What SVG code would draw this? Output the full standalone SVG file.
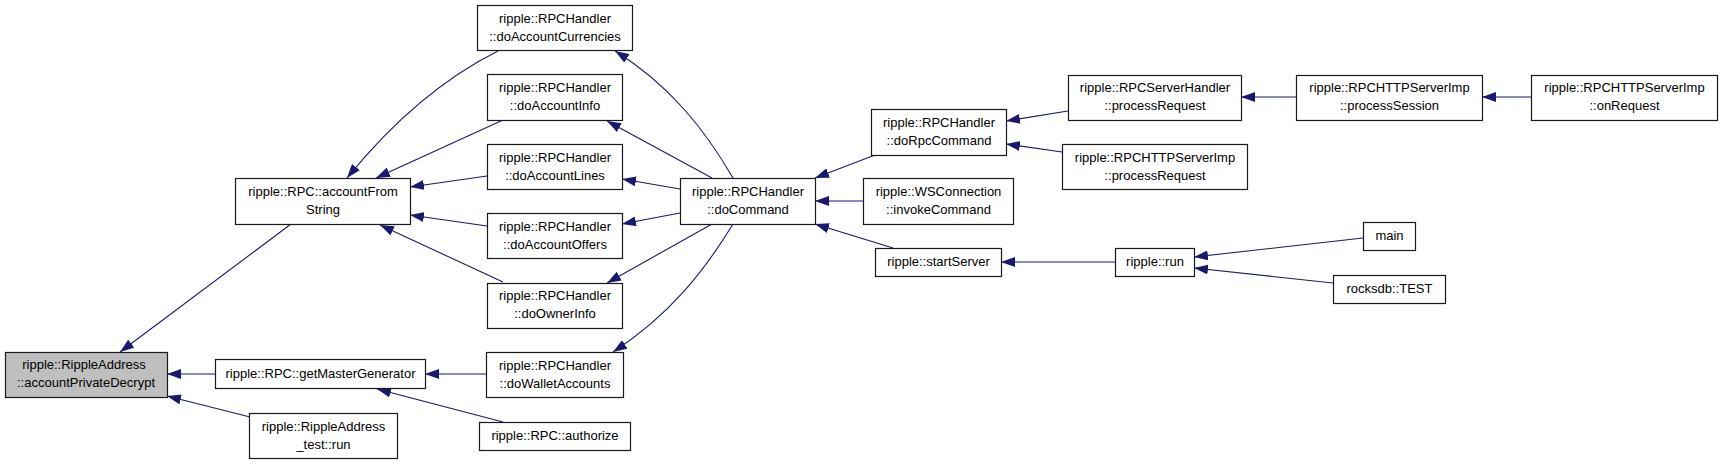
<svg xmlns="http://www.w3.org/2000/svg" width="1723" height="464" viewBox="0 0 1723 464">
<style>
.n rect{fill:#fff;stroke:#1a1a1a;stroke-width:1.2}
.n.g rect{fill:#bfbfbf}
.n text{font-family:"Liberation Sans",Arial,sans-serif;font-size:13px;fill:#000;text-anchor:middle}
.e path{fill:none;stroke:#191970;stroke-width:1.1}
</style>
<defs>
<marker id="a" markerWidth="14" markerHeight="10" refX="14" refY="5" orient="auto" markerUnits="userSpaceOnUse">
<path d="M0,0 L14,5 L0,10 z" fill="#191970" stroke="none"/>
</marker>
</defs>
<rect width="1723" height="464" fill="#fff"/>
<g class="e">
<path d="M291,224 L120,352" marker-end="url(#a)"/>
<path d="M215,374 L167,374" marker-end="url(#a)"/>
<path d="M250,417 L167,396" marker-end="url(#a)"/>
<path d="M498,51 C440,80 390,125 347,178" marker-end="url(#a)"/>
<path d="M503,120 L376,178" marker-end="url(#a)"/>
<path d="M487,176 L410,187" marker-end="url(#a)"/>
<path d="M487,226 L410,215" marker-end="url(#a)"/>
<path d="M503,282 L380,225" marker-end="url(#a)"/>
<path d="M733,178 C705,130 670,85 615,51" marker-end="url(#a)"/>
<path d="M712,178 L607,121" marker-end="url(#a)"/>
<path d="M680,189 L622,179" marker-end="url(#a)"/>
<path d="M680,213 L622,224" marker-end="url(#a)"/>
<path d="M712,224 L607,283" marker-end="url(#a)"/>
<path d="M733,224 C705,270 670,315 613,352" marker-end="url(#a)"/>
<path d="M486,374 L425,374" marker-end="url(#a)"/>
<path d="M503,422 L377,389" marker-end="url(#a)"/>
<path d="M875,155 L815,178" marker-end="url(#a)"/>
<path d="M863,201 L815,201" marker-end="url(#a)"/>
<path d="M893,248 L815,224" marker-end="url(#a)"/>
<path d="M1068,111 L1006,121" marker-end="url(#a)"/>
<path d="M1062,152 L1006,144" marker-end="url(#a)"/>
<path d="M1115,262 L1001,262" marker-end="url(#a)"/>
<path d="M1363,238 L1194,257" marker-end="url(#a)"/>
<path d="M1333,283 L1194,268" marker-end="url(#a)"/>
<path d="M1296,97 L1241,97" marker-end="url(#a)"/>
<path d="M1531,97 L1482,97" marker-end="url(#a)"/>
</g>
<g id="n_accountPrivateDecrypt" class="n g"><rect x="5.5" y="352.5" width="162" height="45"/><text x="84" y="369">ripple::RippleAddress</text><text x="86" y="387">::accountPrivateDecrypt</text></g>
<g id="n_accountFromString" class="n"><rect x="235.5" y="178.5" width="175" height="46"/><text x="323" y="196">ripple::RPC::accountFrom</text><text x="323" y="214">String</text></g>
<g id="n_getMasterGenerator" class="n"><rect x="215.5" y="359.5" width="210" height="29"/><text x="320.5" y="378">ripple::RPC::getMasterGenerator</text></g>
<g id="n_RippleAddress_test_run" class="n"><rect x="249.5" y="413.5" width="148" height="45"/><text x="323.5" y="431">ripple::RippleAddress</text><text x="323.5" y="449">_test::run</text></g>
<g id="n_doAccountCurrencies" class="n"><rect x="477.5" y="5.5" width="155" height="45"/><text x="555" y="23">ripple::RPCHandler</text><text x="555" y="41">::doAccountCurrencies</text></g>
<g id="n_doAccountInfo" class="n"><rect x="487.5" y="74.5" width="135" height="46"/><text x="555" y="92">ripple::RPCHandler</text><text x="555" y="110">::doAccountInfo</text></g>
<g id="n_doAccountLines" class="n"><rect x="487.5" y="144.5" width="135" height="45"/><text x="555" y="162">ripple::RPCHandler</text><text x="555" y="180">::doAccountLines</text></g>
<g id="n_doAccountOffers" class="n"><rect x="487.5" y="213.5" width="135" height="45"/><text x="555" y="231">ripple::RPCHandler</text><text x="555" y="249">::doAccountOffers</text></g>
<g id="n_doOwnerInfo" class="n"><rect x="487.5" y="283.5" width="135" height="45"/><text x="555" y="300">ripple::RPCHandler</text><text x="555" y="318">::doOwnerInfo</text></g>
<g id="n_doWalletAccounts" class="n"><rect x="486.5" y="352.5" width="137" height="45"/><text x="555" y="370">ripple::RPCHandler</text><text x="555" y="388">::doWalletAccounts</text></g>
<g id="n_authorize" class="n"><rect x="479.5" y="422.5" width="151" height="28"/><text x="555" y="440">ripple::RPC::authorize</text></g>
<g id="n_doCommand" class="n"><rect x="680.5" y="178.5" width="135" height="46"/><text x="748" y="196">ripple::RPCHandler</text><text x="748" y="214">::doCommand</text></g>
<g id="n_doRpcCommand" class="n"><rect x="871.5" y="109.5" width="135" height="46"/><text x="939" y="127">ripple::RPCHandler</text><text x="939" y="145">::doRpcCommand</text></g>
<g id="n_invokeCommand" class="n"><rect x="863.5" y="178.5" width="150" height="46"/><text x="938.5" y="196">ripple::WSConnection</text><text x="938.5" y="214">::invokeCommand</text></g>
<g id="n_startServer" class="n"><rect x="875.5" y="248.5" width="126" height="28"/><text x="938.5" y="266">ripple::startServer</text></g>
<g id="n_RPCServerHandler_processRequest" class="n"><rect x="1068.5" y="75.5" width="173" height="45"/><text x="1155" y="92">ripple::RPCServerHandler</text><text x="1155" y="110">::processRequest</text></g>
<g id="n_RPCHTTPServerImp_processRequest" class="n"><rect x="1062.5" y="144.5" width="185" height="45"/><text x="1155" y="162">ripple::RPCHTTPServerImp</text><text x="1155" y="180">::processRequest</text></g>
<g id="n_run" class="n"><rect x="1115.5" y="248.5" width="79" height="28"/><text x="1155" y="266">ripple::run</text></g>
<g id="n_processSession" class="n"><rect x="1296.5" y="75.5" width="186" height="45"/><text x="1389.5" y="92">ripple::RPCHTTPServerImp</text><text x="1389.5" y="110">::processSession</text></g>
<g id="n_onRequest" class="n"><rect x="1531.5" y="75.5" width="186" height="45"/><text x="1624.5" y="92">ripple::RPCHTTPServerImp</text><text x="1624.5" y="110">::onRequest</text></g>
<g id="n_main" class="n"><rect x="1363.5" y="222.5" width="52" height="28"/><text x="1389.5" y="240">main</text></g>
<g id="n_rocksdb_TEST" class="n"><rect x="1333.5" y="275.5" width="112" height="28"/><text x="1389.5" y="293">rocksdb::TEST</text></g>
</svg>
